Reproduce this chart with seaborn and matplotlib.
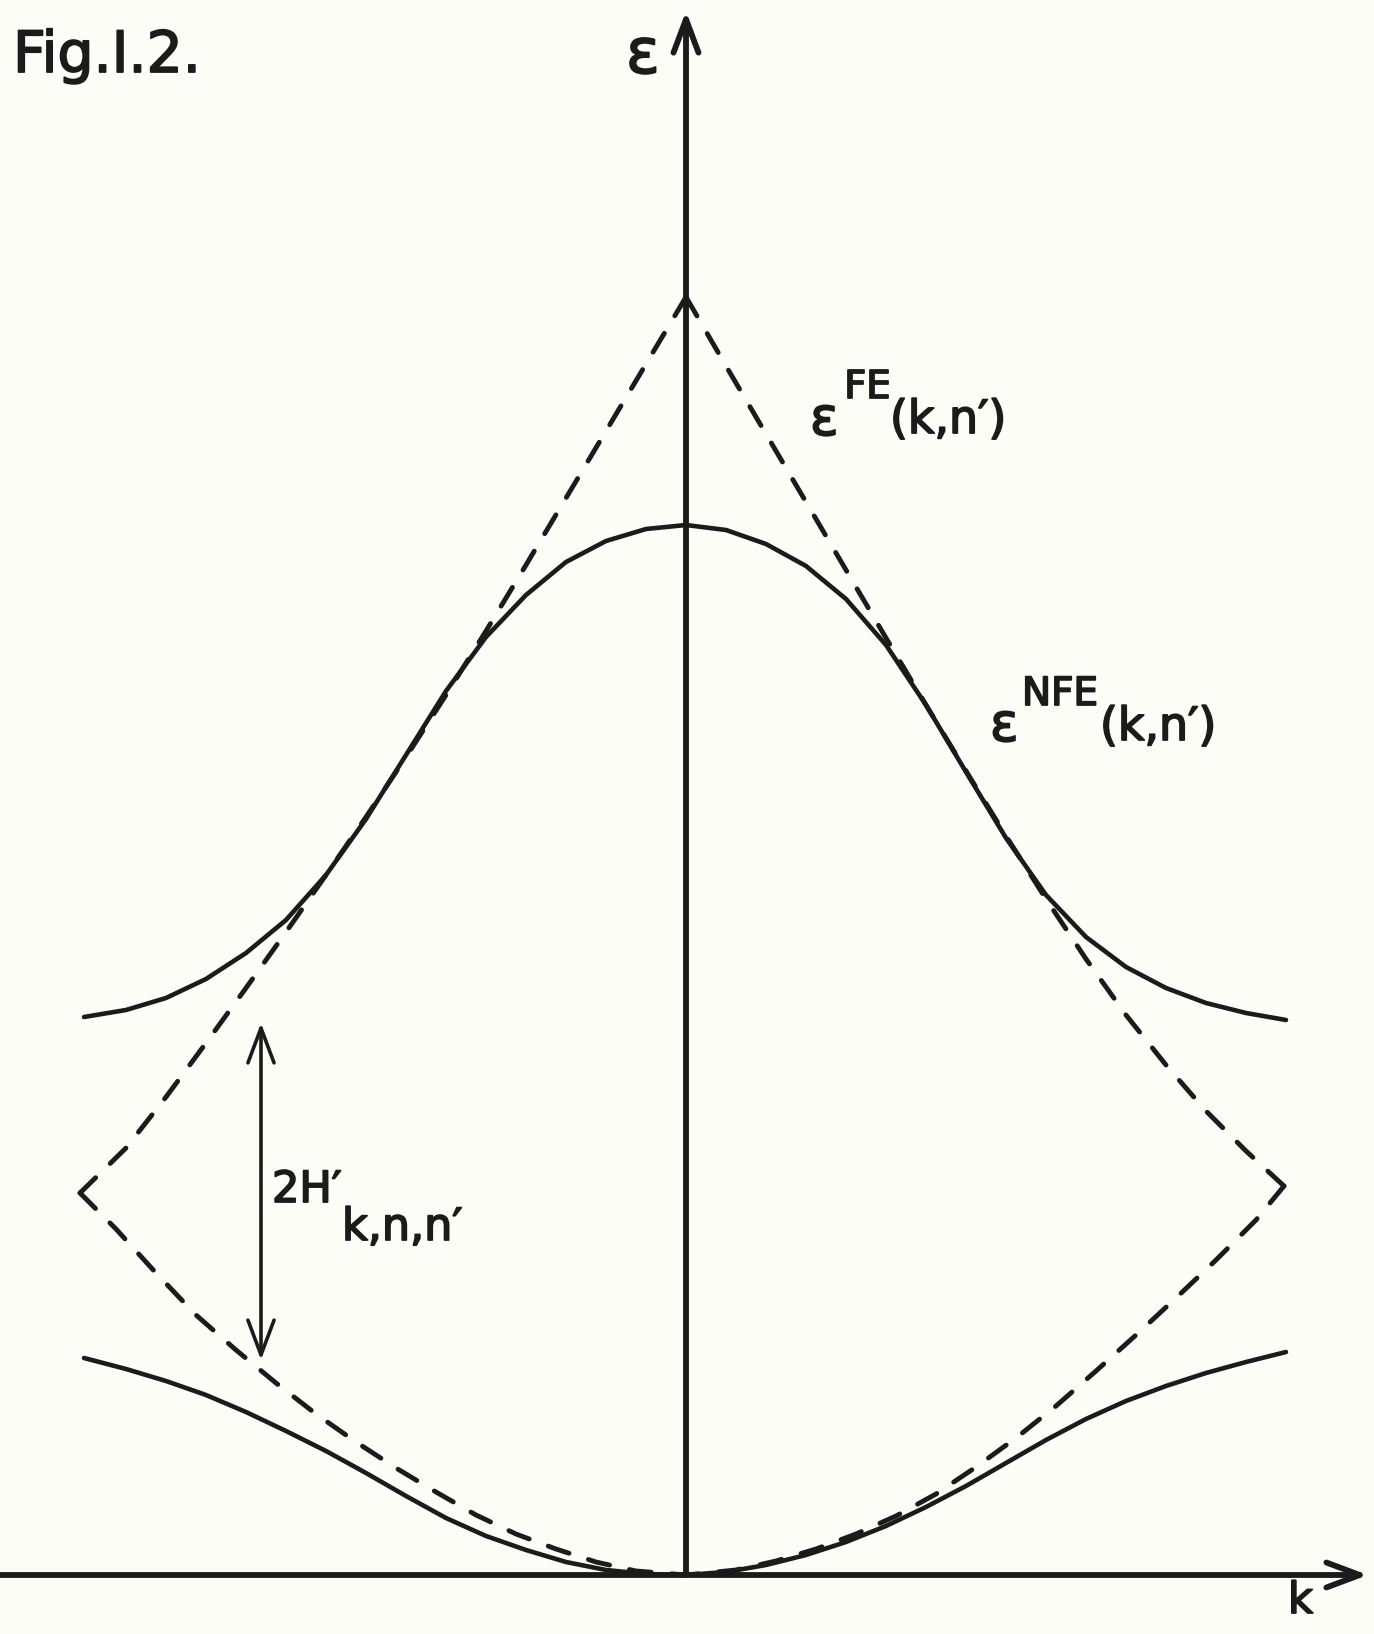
import matplotlib
matplotlib.use('Agg')
import matplotlib.pyplot as plt
import matplotlib.patheffects as pe
import seaborn as sns

# Values. k and energy are in arbitrary units:
# k = 0 on the energy axis, energy = 0 on the k axis.

# upper nearly-free-electron band (solid)
upper_nfe_k = [-602, -560, -520, -480, -440, -400, -360, -320, -280, -240, -200, -160, -120, -80, -40, 0,
               40, 80, 120, 160, 200, 240, 280, 320, 360, 400, 440, 480, 520, 560, 600]
upper_nfe_E = [558, 565, 577, 596, 622, 655, 700, 756, 820, 884, 938, 980, 1013, 1034, 1046, 1050,
               1045, 1031, 1009, 976, 930, 870, 803, 737, 680, 638, 608, 587, 572, 562, 555]

# lower nearly-free-electron band (solid)
lower_nfe_k = [-602, -560, -520, -480, -440, -400, -360, -320, -280, -240, -200, -160, -120, -80, -40, 0,
               40, 80, 120, 160, 200, 240, 280, 320, 360, 400, 440, 480, 520, 560, 600]
lower_nfe_E = [217, 206, 194, 180, 163, 144, 124, 102, 79, 57, 39, 25, 13, 5, 1, 0,
               3, 10, 20, 33, 49, 68, 89, 112, 135, 156, 174, 189, 202, 213, 223]

# free-electron band, folded (dashed); every piece starts where the drawing starts a dash
fe_top_left_k = [0, -40, -80, -120, -160, -200, -240, -280]
fe_top_left_E = [1278, 1211, 1144, 1077, 1010, 944, 880, 818]
fe_side_left_k = [-606, -560, -520, -480, -440, -400, -360, -320, -280]
fe_side_left_E = [382, 427, 478, 532, 587, 643, 700, 758, 818]
fe_low_left_k = [-606, -570, -530, -490, -450, -410, -370, -330, -290, -250, -210, -170, -130, -90, -50, 0]
fe_low_left_E = [382, 346, 302, 260, 225, 192, 161, 133, 107, 83, 60, 41, 26, 13, 4, 0]

fe_top_right_k = [0, 40, 80, 120, 160, 200, 240, 280]
fe_top_right_E = [1278, 1209, 1141, 1073, 1005, 937, 870, 804]
fe_side_right_k = [598, 560, 520, 480, 440, 400, 360, 320, 280]
fe_side_right_E = [389, 424, 464, 510, 560, 616, 676, 739, 804]
fe_low_right_k = [598, 570, 530, 490, 450, 410, 370, 330, 290, 250, 210, 170, 130, 90, 50, 0]
fe_low_right_E = [389, 355, 315, 277, 240, 204, 169, 137, 108, 81, 59, 41, 26, 14, 5, 0]

# gap arrow 2H'
gap_k = -425
gap_top_E = 552
gap_bottom_E = 215

ink = '#1b1b1b'
paper = '#fdfdf7'

sns.set_style('white')
plt.rcParams['font.family'] = ['DejaVu Sans']

fig = plt.figure(figsize=(13.74, 16.34), dpi=100, facecolor=paper)
ax = fig.add_axes([0, 0, 1, 1])
ax.set_xlim(-686, 688)
ax.set_ylim(-59, 1575)
ax.set_axis_off()

solid_kw = dict(color=ink, lw=3.3, solid_capstyle='round', solid_joinstyle='round',
                sort=False, estimator=None, ax=ax)
dash_kw = dict(color=ink, lw=3.5, linestyle=(0, (4.5, 4.2)), dash_capstyle='round',
               sort=False, estimator=None, ax=ax)

# solid bands
sns.lineplot(x=upper_nfe_k, y=upper_nfe_E, **solid_kw)
sns.lineplot(x=lower_nfe_k, y=lower_nfe_E, **solid_kw)

# dashed free-electron pieces
dashed_pieces = [
    (fe_top_left_k, fe_top_left_E),
    (fe_side_left_k, fe_side_left_E),
    (fe_low_left_k, fe_low_left_E),
    (fe_top_right_k, fe_top_right_E),
    (fe_side_right_k, fe_side_right_E),
    (fe_low_right_k, fe_low_right_E),
]
for xs, ys in dashed_pieces:
    sns.lineplot(x=xs, y=ys, **dash_kw)

# axes drawn as arrows
axis_arrow = dict(arrowstyle='->,head_length=1.2,head_width=0.45', lw=4.2, color=ink,
                  shrinkA=0, shrinkB=0, mutation_scale=20)
ax.annotate('', xy=(0, 1564), xytext=(0, 0), arrowprops=axis_arrow)
ax.annotate('', xy=(682, 0), xytext=(-686, 0), arrowprops=axis_arrow)

gap_arrow = dict(arrowstyle='<->,head_length=1.25,head_width=0.47', lw=2.6, color=ink,
                 shrinkA=0, shrinkB=0, mutation_scale=20)
ax.annotate('', xy=(gap_k, gap_top_E), xytext=(gap_k, gap_bottom_E), arrowprops=gap_arrow)

# labels (a thin outline gives the heavier lettering-stencil look)
bold = [pe.withStroke(linewidth=1.3, foreground=ink)]
txt = dict(color=ink, ha='left', va='baseline', path_effects=bold)
ax.text(-673, 1503, 'Fig.I.2.', fontsize=41, **txt)
ax.text(-60, 1502, 'ε', fontsize=45, **txt)
ax.text(602, -38, 'k', fontsize=31, **txt)

ax.text(124, 1140, 'ε', fontsize=38, **txt)
ax.text(158, 1177, 'FE', fontsize=28, **txt)
ax.text(204, 1142, '(k,n′)', fontsize=33, **txt)

ax.text(304, 834, 'ε', fontsize=38, **txt)
ax.text(336, 870, 'NFE', fontsize=28, **txt)
ax.text(414, 835, '(k,n′)', fontsize=33, **txt)

ax.text(-414, 373, '2H′', fontsize=31, **txt)
ax.text(-344, 335, 'k,n,n′', fontsize=32, **txt)

fig.savefig('out.png', dpi=100, facecolor=paper)
